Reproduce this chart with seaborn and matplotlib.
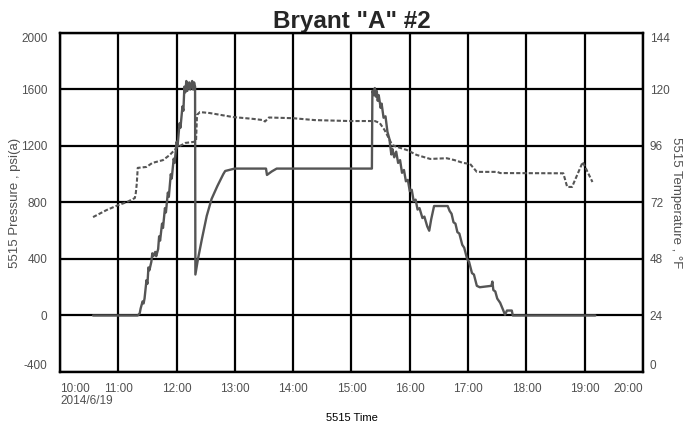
# Bryant "A" #2 - pressure / temperature vs time

import pandas as pd
import matplotlib
matplotlib.use("Agg")
import matplotlib.pyplot as plt
import matplotlib.transforms as mtrans
import seaborn as sns

# -----------------------------------------
# Data
# -----------------------------------------

day = "2014-06-19"

press_time = [
    "10:34", "11:20", "11:22", "11:23", "11:25", "11:26", "11:27", "11:29",
    "11:30", "11:31", "11:32", "11:34", "11:35", "11:36", "11:38", "11:39",
    "11:41", "11:42", "11:43", "11:45", "11:46", "11:48", "11:49", "11:51",
    "11:52", "11:54", "11:55", "11:57", "11:58", "12:00", "12:01", "12:03",
    "12:04", "12:06", "12:07", "12:08", "12:09", "12:10", "12:11", "12:13",
    "12:14", "12:16", "12:17", "12:18", "12:19", "12:19:20", "12:22", "12:26",
    "12:31", "12:36", "12:42", "12:48", "12:50", "12:58", "13:00", "13:32",
    "13:33", "13:38", "13:43", "15:21", "15:21:30", "15:23", "15:24", "15:25",
    "15:26", "15:27", "15:28", "15:30", "15:31", "15:33", "15:35", "15:37",
    "15:39", "15:41", "15:42", "15:44", "15:46", "15:48", "15:50", "15:52",
    "15:54", "15:56", "15:58", "16:00", "16:02", "16:04", "16:06", "16:08",
    "16:10", "16:13", "16:15", "16:18", "16:20", "16:22", "16:25", "16:39",
    "16:41", "16:43", "16:45", "16:47", "16:49", "16:51", "16:54", "16:56",
    "16:59", "17:01", "17:04", "17:06", "17:09", "17:12", "17:24", "17:25",
    "17:26", "17:28", "17:30", "17:33", "17:36", "17:38", "17:40", "17:45",
    "17:46", "19:11",
]

press_psi = [
    0, 0, 15, 50, 100, 85, 120, 250,
    225, 340, 320, 380, 440, 420, 450, 420,
    470, 560, 530, 650, 620, 760, 730, 870,
    840, 1000, 970, 1110, 1080, 1230, 1200, 1360,
    1330, 1480, 1450, 1620, 1580, 1660, 1590, 1650,
    1600, 1660, 1600, 1650, 1620, 290, 400, 540,
    705, 825, 917, 1000, 1023, 1037, 1040, 1040,
    995, 1020, 1040, 1040, 1590, 1560, 1610, 1550,
    1590, 1520, 1560, 1470, 1500, 1400, 1410, 1300,
    1250, 1140, 1180, 1120, 1160, 1080, 1100, 1010,
    1030, 950, 960, 880, 890, 810, 820, 750,
    760, 690, 700, 630, 600, 680, 775, 775,
    740, 720, 660, 650, 590, 580, 500, 480,
    400, 380, 300, 290, 210, 200, 210, 240,
    180, 170, 120, 90, 40, 5, 35, 35,
    0, 0,
]

temp_time = [
    "10:34", "10:48", "11:00", "11:09", "11:17", "11:18", "11:19", "11:20",
    "11:29", "11:35", "11:46", "11:53", "12:00", "12:09", "12:17", "12:20",
    "12:21", "12:24", "12:34", "12:58", "13:19", "13:29", "13:31", "13:35",
    "14:00", "14:22", "14:58", "15:24", "15:29", "15:34", "15:42", "15:47",
    "15:57", "16:07", "16:21", "16:38", "16:46", "16:55", "17:02", "17:09",
    "17:30", "17:33", "18:38", "18:42", "18:47", "18:58", "19:08",
]

temp_f = [
    65.8, 68.8, 70.9, 72.2, 73.9, 76.0, 80.0, 86.7,
    87.1, 88.8, 90.0, 92.2, 95.2, 97.3, 97.7, 98.0,
    109.2, 110.4, 110.0, 108.3, 107.5, 107.0, 106.4, 108.1,
    107.8, 107.0, 106.6, 106.6, 105.8, 102.8, 96.4, 95.6,
    94.3, 92.2, 90.5, 90.8, 90.0, 88.8, 88.4, 85.0,
    85.0, 84.5, 84.4, 78.6, 78.6, 89.2, 80.7,
]

hour_labels = ["10:00", "11:00", "12:00", "13:00", "14:00", "15:00",
               "16:00", "17:00", "18:00", "19:00", "20:00"]
date_label = "2014/6/19"
press_ticks = [-400, 0, 400, 800, 1200, 1600, 2000]
temp_ticks = [0, 24, 48, 72, 96, 120, 144]


def to_stamp(times):
    return pd.to_datetime([f"{day} {t}" for t in times], format="mixed")


press = pd.DataFrame({"time": to_stamp(press_time), "psi": press_psi})
temp = pd.DataFrame({"time": to_stamp(temp_time), "degF": temp_f})

# -----------------------------------------
# Plot
# -----------------------------------------

sns.set_style("white")
plt.rcParams['font.family'] = ['Liberation Sans', 'DejaVu Sans']

grey = "#505050"
line_col = "#555555"

fig = plt.figure(figsize=(6.89, 4.30), dpi=100)
ax = fig.add_axes([0.0871, 0.1349, 0.8461, 0.7884])
ax2 = ax.twinx()

sns.lineplot(data=press, x="time", y="psi", ax=ax,
             color=line_col, linewidth=1.7, zorder=3)
sns.lineplot(data=temp, x="time", y="degF", ax=ax2,
             color=line_col, linewidth=1.5, linestyle=(0, (2, 1)), zorder=3)

hours = pd.date_range(f"{day} 10:00", f"{day} 20:00", freq="h")
ax.set_xlim(hours[0], hours[-1])
ax.set_xticks(hours)
ax.set_xticklabels(hour_labels)

ax.set_ylim(press_ticks[0], press_ticks[-1])
ax.set_yticks(press_ticks)
ax.set_yticklabels([str(v) for v in press_ticks])
ax2.set_ylim(temp_ticks[0], temp_ticks[-1])
ax2.set_yticks(temp_ticks)
ax2.set_yticklabels([str(v) for v in temp_ticks])

ax.grid(True, color="black", linewidth=1.6)
ax.set_axisbelow(True)
ax2.grid(False)

for a in (ax, ax2):
    for s in a.spines.values():
        s.set_color("black")
        s.set_linewidth(1.6)
    a.tick_params(length=0, labelsize=8.5, labelcolor=grey)

ax.tick_params(axis="x", pad=8)
ax.tick_params(axis="y", pad=9)
ax2.tick_params(axis="y", pad=5)

# first / last labels tucked inside the axis range
xl = ax.get_xticklabels()
xl[0].set_ha("left")
xl[-1].set_ha("right")
for lab in (ax.get_yticklabels()[0], ax2.get_yticklabels()[0]):
    lab.set_va("bottom")
for lab in (ax.get_yticklabels()[-1], ax2.get_yticklabels()[-1]):
    lab.set_va("top")

# date under the first time label
date_tr = mtrans.blended_transform_factory(ax.transAxes, fig.transFigure)
ax.text(0.0, 1 - 401 / 430, date_label, transform=date_tr, fontsize=8.5,
        color=grey, ha="left", va="center")

ax.set_xlabel("5515 Time", fontsize=8, color="black", labelpad=13)
ax.set_ylabel("5515 Pressure , psi(a)", fontsize=9.5, color=grey, labelpad=0)
ax2.set_ylabel("5515 Temperature , °F", fontsize=9.5, color=grey,
               rotation=270, labelpad=9)

ax.set_title('Bryant "A" #2', fontsize=17.5, fontweight="bold", pad=3)

plt.savefig("out.png", dpi=100)
